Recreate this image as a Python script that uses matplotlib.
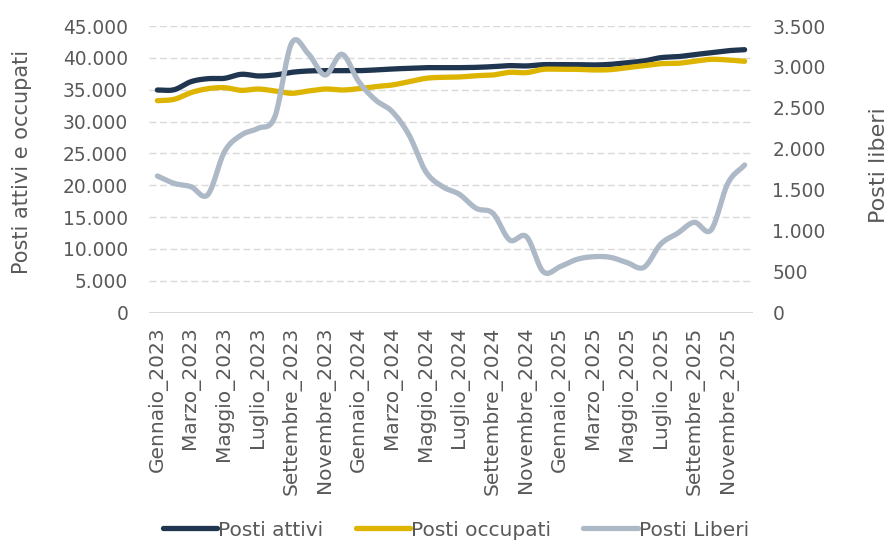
import numpy as np
import matplotlib
matplotlib.use("Agg")
import matplotlib.pyplot as plt
from matplotlib.ticker import FuncFormatter

mesi = ["Gennaio", "Febbraio", "Marzo", "Aprile", "Maggio", "Giugno", "Luglio",
        "Agosto", "Settembre", "Ottobre", "Novembre", "Dicembre"]
anni = [2023, 2024, 2025]
categories = [f"{m}_{a}" for a in anni for m in mesi]

posti_attivi = [34950, 35000, 36260, 36730, 36790, 37420, 37160, 37310, 37730, 37940,
                37990, 37990, 37990, 38100, 38250, 38360, 38460, 38460, 38460, 38510,
                38620, 38780, 38730, 38930, 38930, 38930, 38880, 38980, 39240, 39510,
                40030, 40180, 40500, 40810, 41120, 41280]
posti_occupati = [33280, 33490, 34540, 35160, 35320, 34900, 35110, 34800, 34440, 34800,
                  35110, 34950, 35160, 35480, 35740, 36260, 36790, 36950, 37000, 37200,
                  37310, 37730, 37680, 38200, 38200, 38200, 38100, 38150, 38460, 38780,
                  39090, 39140, 39460, 39770, 39670, 39460]
posti_liberi = [1669, 1579, 1538, 1440, 1966, 2169, 2251, 2393, 3290, 3160,
                2902, 3155, 2821, 2597, 2454, 2169, 1721, 1538, 1445, 1274,
                1213, 887, 928, 500, 562, 651, 684, 676, 611, 554,
                838, 969, 1103, 1010, 1579, 1803]

left_ticks = list(range(0, 45001, 5000))
right_ticks = list(range(0, 3501, 500))

C_ATT = "#1F3550"
C_OCC = "#DDB400"
C_LIB = "#ADB9C6"
TXT = "#595959"
GRID = "#D9D9D9"


def smooth(y, n=20):
    """Catmull-Rom rendering of the series (as Excel 'smoothed line')."""
    y = np.asarray(y, float)
    x = np.arange(len(y), dtype=float)
    P = np.concatenate([[2 * y[0] - y[1]], y, [2 * y[-1] - y[-2]]])
    xs, ys = [], []
    for i in range(len(y) - 1):
        p0, p1, p2, p3 = P[i], P[i + 1], P[i + 2], P[i + 3]
        t = np.linspace(0, 1, n, endpoint=False)
        yy = 0.5 * ((2 * p1) + (-p0 + p2) * t + (2 * p0 - 5 * p1 + 4 * p2 - p3) * t**2
                    + (-p0 + 3 * p1 - 3 * p2 + p3) * t**3)
        xs.append(x[i] + t)
        ys.append(yy)
    xs.append([x[-1]])
    ys.append([y[-1]])
    return np.concatenate(xs), np.concatenate(ys)


plt.rcParams['font.family'] = ['DejaVu Sans']
fig = plt.figure(figsize=(8.94, 5.42), dpi=100)
ax = fig.add_axes([149 / 894, 1 - 312.7 / 542, (753 - 149) / 894, (312.7 - 26) / 542])
ax2 = ax.twinx()

fmt = FuncFormatter(lambda v, p: f"{int(v):,}".replace(",", "."))

ax.set_ylim(0, 45000)
ax2.set_ylim(0, 3500)
ax.set_xlim(-0.5, len(categories) - 0.5)
ax.set_yticks(left_ticks)
ax2.set_yticks(right_ticks)
ax.yaxis.set_major_formatter(fmt)
ax2.yaxis.set_major_formatter(fmt)

for t in left_ticks[1:]:
    ax.axhline(t, color=GRID, lw=1.0, ls=(0, (5, 2.5)), zorder=0)
ax.axhline(0, color=GRID, lw=1.5, zorder=0)

for a in (ax, ax2):
    for s in a.spines.values():
        s.set_visible(False)
    a.tick_params(length=0, labelsize=13.4, labelcolor=TXT)
ax.tick_params(axis='y', pad=15)
ax2.tick_params(axis='y', pad=14)

pos = list(range(0, len(categories), 2))
ax.set_xticks(pos)
ax.set_xticklabels([categories[i] for i in pos], rotation=90, fontsize=14.5, color=TXT)
ax.tick_params(axis='x', pad=10)

x1, y1 = smooth(posti_attivi)
x2, y2 = smooth(posti_occupati)
x3, y3 = smooth(posti_liberi)
l1, = ax.plot(x1, y1, color=C_ATT, lw=3.8, solid_capstyle='round', label="Posti attivi", zorder=3)
l2, = ax.plot(x2, y2, color=C_OCC, lw=3.8, solid_capstyle='round', label="Posti occupati", zorder=3)
l3, = ax2.plot(x3, y3, color=C_LIB, lw=3.8, solid_capstyle='round', label="Posti Liberi", zorder=3)

fig.text(22 / 894, 1 - 162 / 542, "Posti attivi e occupati", rotation=90, ha='center', va='center',
         fontsize=15, color=TXT)
fig.text(879 / 894, 1 - 165 / 542, "Posti liberi", rotation=90, ha='center', va='center',
         fontsize=16, color=TXT)

leg = fig.legend(handles=[l1, l2, l3], loc='center', bbox_to_anchor=(456 / 894, 1 - 530 / 542),
                 ncol=3, frameon=False, fontsize=14.5, handlelength=2.7, handletextpad=0.05,
                 columnspacing=1.6, labelcolor=TXT)

fig.savefig("out.png", dpi=100)
